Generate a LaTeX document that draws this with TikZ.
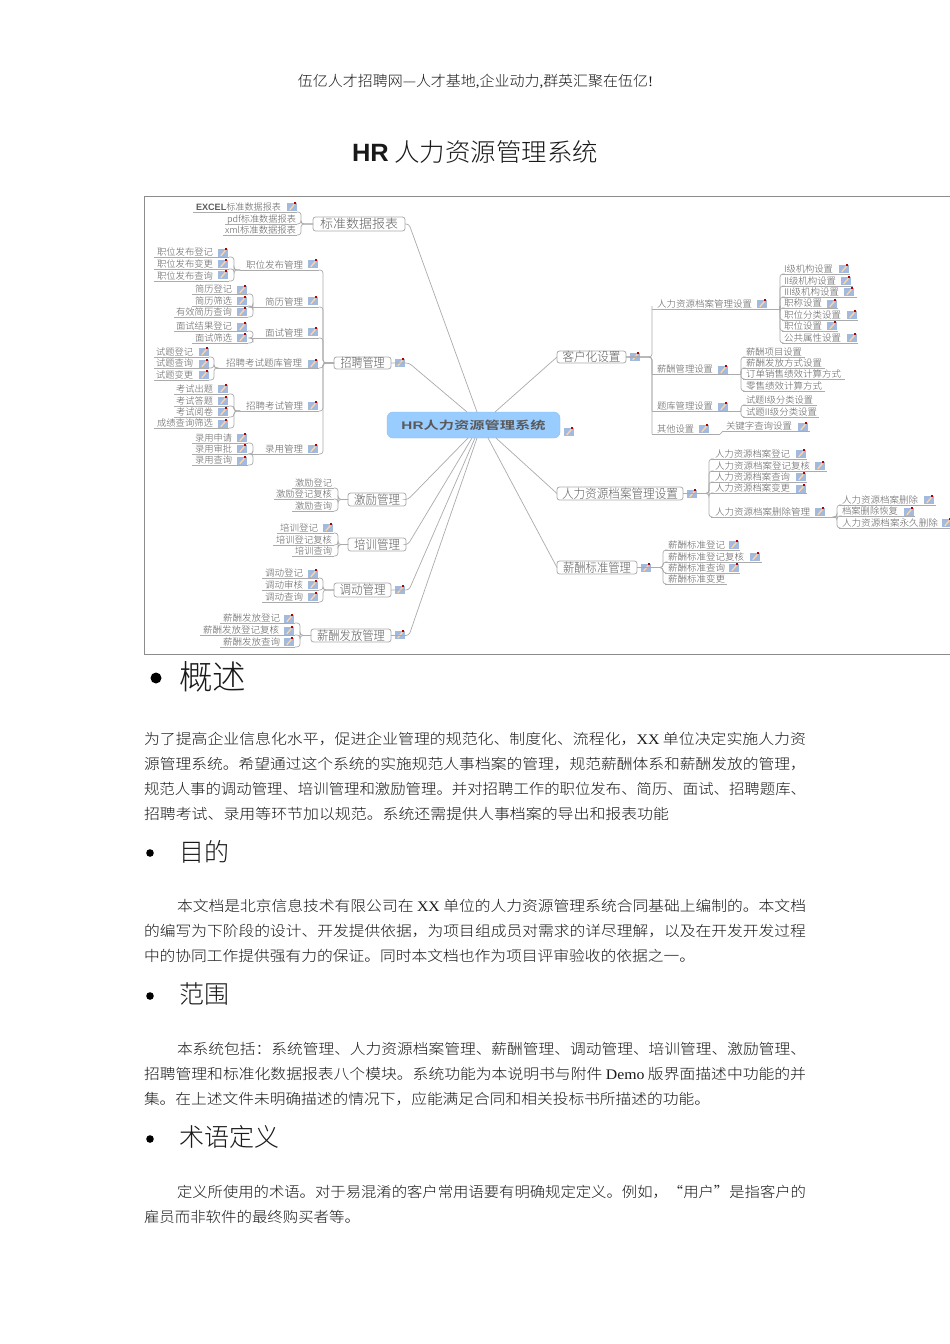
\documentclass[tikz,border=0pt]{standalone}
\usepackage{fontspec}
\usepackage{graphicx}
\setmainfont{Noto Sans CJK SC Light}
\newfontfamily\lat{Liberation Serif}
\newfontfamily\hel{Liberation Sans}
\newfontfamily\cjkbold{Noto Sans CJK SC Bold}
\definecolor{mmtext}{HTML}{5E5E5E}
\definecolor{mmline}{HTML}{ABABAB}
\definecolor{hubblue}{HTML}{99CCFF}
\definecolor{icblue}{HTML}{A3BADF}
\tikzset{
  lnk/.style={draw=mmline,line width=0.7pt,rounded corners=3pt},
  leafnode/.style={inner sep=0pt,outer sep=0pt,anchor=south,text=mmtext,text height=8.5pt,text depth=1.2pt,font=\fontsize{9.2}{10}\selectfont},
  boxnode/.style={draw=mmline,line width=0.8pt,rounded corners=2.5pt,fill=white,inner sep=0pt,outer sep=0pt,text=mmtext,font=\fontsize{12.5}{14}\selectfont},
  bodynode/.style={inner sep=0pt,outer sep=0pt,anchor=west,text=black!90,font=\fontsize{14.6}{17}\selectfont},
  headnode/.style={inner sep=0pt,outer sep=0pt,anchor=west,text=black!90},
  bulletdot/.style={fill=black}
}
\newcommand\leafn[7]{%
  \pgfmathsetlengthmacro\wa{(#3-#2)*1pt}%
  \pgfmathsetlengthmacro\wb{(#5-#2)*1pt}%
  \pgfmathsetlengthmacro\wc{(#6-#5)*1pt}%
  \node[leafnode] (#1) at ({(#2+#3)/2},#4) {\makebox[\wa][l]{\hspace{\wb}\resizebox{\wc}{\height}{#7}}};
  \draw[lnk] (#1.south west) -- (#1.south east);
}
\newcommand\boxn[6]{%
  \pgfmathsetlengthmacro\wa{(#3-#2)*1pt}%
  \pgfmathsetlengthmacro\wb{(#5-#4)*1pt}%
  \node[boxnode,minimum width=\wa,minimum height=\wb] (#1) at ({(#2+#3)/2},{(#4+#5)/2}) {#6};
}
\newcommand\icn[2]{%
  \fill[icblue] (#1-4.6,#2-4.4) rectangle (#1+4.6,#2+4.4);
  \draw[line width=1.4pt,color=white!65!orange] (#1-2.2,#2+2.8) -- (#1+2.4,#2-2.6);
  \fill[red!70!black] (#1+2.4,#2-5) rectangle (#1+4.2,#2-3.2);
}
\newcommand\bline[5]{%
  \pgfmathsetlengthmacro\wa{(#3-#2)*1pt}%
  \node[bodynode] (#1) at (#2,#4) {\resizebox{\wa}{\height}{#5}};
}
\newcommand\treen[4]{%
  \foreach \c in {#4} {\draw[lnk] (#1) -- (#2 |- #1) |- (\c.#3);}
}
\begin{document}
\begin{tikzpicture}[x=1pt,y=-1pt]
\useasboundingbox (0,0) rectangle (950,1344);
\clip (0,0) rectangle (950,1344);
\fill[white] (0,0) rectangle (950,1344);
% page head
\node[inner sep=0pt,text=black!90,font=\fontsize{14.6}{17}\selectfont] (pagehead) at (475.5,81) {\resizebox{355pt}{\height}{伍亿人才招聘网—人才基地{\lat ,}企业动力{\lat ,}群英汇聚在伍亿{\lat !}}};
\node[inner sep=0pt,text=black!90,font=\fontsize{25}{30}\selectfont] (title) at (475,152) {\resizebox{246pt}{\height}{{\hel\bfseries HR} 人力资源管理系统}};
% frame
\draw[draw=black!45,line width=0.8pt] (950,196) -- (144,196) -- (144,654) -- (950,654);
% hub
\node[draw=hubblue!80!gray,fill=hubblue,rounded corners=6pt,minimum width=173pt,minimum height=26pt,inner sep=0pt,outer sep=0pt,text=black!65,font=\fontsize{11}{13}\selectfont] (hub) at (473.5,425) {\resizebox{144pt}{\height}{{\hel\bfseries HR}{\cjkbold 人力资源管理系统}}};
\icn{569}{432}
\coordinate (hA) at (477,412);\coordinate (hB) at (467,412);\coordinate (hC) at (495,412);
\coordinate (hD) at (468,438);\coordinate (hE) at (472,438);\coordinate (hF) at (475,438);\coordinate (hG) at (477,438);
\coordinate (hH) at (488,438);\coordinate (hI) at (496,438);
% ---- standard reports
\boxn{bz}{313}{405}{217}{231}{\resizebox{78pt}{\height}{标准数据报表}}
\leafn{bz1}{193}{297}{212}{196}{281}{{\hel\bfseries EXCEL}标准数据报表}\icn{292}{207}
\leafn{bz2}{225}{297}{224}{227}{296}{pdf标准数据报表}
\leafn{bz3}{223}{297}{235}{225}{296}{xml标准数据报表}
\coordinate (jbz) at (301,224);
\treen{bz.west}{jbz}{south east}{bz1,bz2,bz3}
% ---- recruitment
\boxn{zp}{334}{391}{357}{369}{\resizebox{44pt}{\height}{招聘管理}}\icn{400}{363}
\coordinate (jzp) at (323,363);
\leafn{zp1}{240}{319}{270}{246}{303}{职位发布管理}\icn{313}{264}
\leafn{zp2}{252}{319}{307}{265}{303}{简历管理}\icn{313}{301}
\leafn{zp3}{252}{319}{338}{265}{303}{面试管理}\icn{313}{332}
\leafn{zp4}{216}{319}{368}{226}{302}{招聘考试题库管理}\icn{313}{364}
\leafn{zp5}{240}{319}{411}{246}{303}{招聘考试管理}\icn{313}{406}
\leafn{zp6}{252}{319}{454}{265}{303}{录用管理}\icn{313}{449}
\treen{zp.west}{jzp}{south east}{zp1,zp2,zp3,zp4,zp5,zp6}
\leafn{za1}{154}{229}{257}{157}{213}{职位发布登记}\icn{223}{253}
\leafn{za2}{154}{229}{269}{157}{213}{职位发布变更}\icn{223}{264}
\leafn{za3}{154}{229}{281}{157}{213}{职位发布查询}\icn{223}{275}
\coordinate (jza) at (234,270);
\treen{zp1.south west}{jza}{south east}{za1,za2,za3}
\leafn{zb1}{192}{248}{294}{195}{232}{简历登记}\icn{242}{290}
\leafn{zb2}{192}{248}{306}{195}{232}{简历筛选}\icn{242}{301}
\leafn{zb3}{174}{248}{317}{176}{232}{有效简历查询}\icn{242}{312}
\coordinate (jzb) at (253,307);
\treen{zp2.south west}{jzb}{south east}{zb1,zb2,zb3}
\leafn{zc1}{174}{248}{331}{176}{232}{面试结果登记}\icn{242}{327}
\leafn{zc2}{192}{248}{343}{195}{232}{面试筛选}\icn{242}{338}
\coordinate (jzc) at (253,338);
\treen{zp3.south west}{jzc}{south east}{zc1,zc2}
\leafn{zd1}{154}{209}{357}{156}{193}{试题登记}\icn{204}{352}
\leafn{zd2}{154}{209}{368}{156}{193}{试题查询}\icn{204}{364}
\leafn{zd3}{154}{209}{380}{156}{193}{试题变更}\icn{204}{375}
\coordinate (jzd) at (214,368);
\treen{zp4.south west}{jzd}{south east}{zd1,zd2,zd3}
\leafn{ze1}{174}{229}{394}{176}{213}{考试出题}\icn{223}{389}
\leafn{ze2}{174}{229}{406}{176}{213}{考试答题}\icn{223}{401}
\leafn{ze3}{174}{229}{417}{176}{213}{考试阅卷}\icn{223}{412}
\leafn{ze4}{154}{229}{428}{157}{213}{成绩查询筛选}\icn{223}{424}
\coordinate (jze) at (234,411);
\treen{zp5.south west}{jze}{south east}{ze1,ze2,ze3,ze4}
\leafn{zf1}{192}{248}{443}{195}{232}{录用申请}\icn{242}{438}
\leafn{zf2}{192}{248}{454}{195}{232}{录用审批}\icn{242}{449}
\leafn{zf3}{192}{248}{465}{195}{232}{录用查询}\icn{242}{461}
\coordinate (jzf) at (253,454);
\treen{zp6.south west}{jzf}{south east}{zf1,zf2,zf3}
% ---- incentive
\boxn{jl}{348}{406}{493}{506}{\resizebox{46pt}{\height}{激励管理}}
\leafn{jl1}{292}{334}{488}{295}{332}{激励登记}
\leafn{jl2}{274}{334}{499}{276}{332}{激励登记复核}
\leafn{jl3}{292}{334}{511}{295}{332}{激励查询}
\coordinate (jjl) at (338,499);
\treen{jl.west}{jjl}{south east}{jl1,jl2,jl3}
% ---- training
\boxn{px}{348}{406}{538}{551}{\resizebox{46pt}{\height}{培训管理}}
\leafn{px1}{277}{334}{533}{280}{318}{培训登记}\icn{328}{528}
\leafn{px2}{273}{334}{545}{276}{332}{培训登记复核}
\leafn{px3}{292}{334}{556}{295}{332}{培训查询}
\coordinate (jpx) at (338,545);
\treen{px.west}{jpx}{south east}{px1,px2,px3}
% ---- transfer
\boxn{dd}{334}{391}{583}{597}{\resizebox{46pt}{\height}{调动管理}}\icn{400}{590}
\leafn{dd1}{262}{319}{578}{265}{303}{调动登记}\icn{313}{574}
\leafn{dd2}{262}{319}{590}{265}{303}{调动审核}\icn{313}{585}
\leafn{dd3}{262}{319}{602}{265}{303}{调动查询}\icn{313}{597}
\coordinate (jdd) at (323,590);
\treen{dd.west}{jdd}{south east}{dd1,dd2,dd3}
% ---- pay
\boxn{xf}{311}{391}{629}{642}{\resizebox{68pt}{\height}{薪酬发放管理}}\icn{400}{635}
\leafn{xf1}{220}{295}{623}{223}{280}{薪酬发放登记}\icn{289}{619}
\leafn{xf2}{200}{295}{635}{203}{279}{薪酬发放登记复核}\icn{289}{631}
\leafn{xf3}{220}{295}{647}{223}{280}{薪酬发放查询}\icn{289}{642}
\coordinate (jxf) at (300,635);
\treen{xf.west}{jxf}{south east}{xf1,xf2,xf3}
% ---- customise
\boxn{kh}{557}{626}{351}{363}{\resizebox{58pt}{\height}{客户化设置}}\icn{635}{357}
\coordinate (jkh) at (652,357);
\leafn{kh1}{652}{780}{309}{657}{752}{人力资源档案管理设置}\icn{762}{304}
\leafn{kh2}{652}{741}{374}{657}{713}{薪酬管理设置}\icn{723}{370}
\leafn{kh3}{652}{741}{411}{657}{713}{题库管理设置}\icn{723}{407}
\leafn{kh4}{652}{720}{434}{657}{694}{其他设置}\icn{704}{429}
\treen{kh.east}{jkh}{south west}{kh1,kh2,kh3,kh4}
\leafn{ka1}{782}{850}{274}{784}{833}{I级机构设置}\icn{844}{269}
\leafn{ka2}{782}{853}{286}{784}{836}{II级机构设置}\icn{846}{281}
\leafn{ka3}{782}{857}{297}{784}{839}{III级机构设置}\icn{849}{292}
\leafn{ka4}{782}{838}{308}{784}{822}{职称设置}\icn{832}{304}
\leafn{ka5}{782}{858}{320}{784}{841}{职位分类设置}\icn{852}{315}
\leafn{ka6}{782}{838}{331}{784}{822}{职位设置}\icn{832}{326}
\leafn{ka7}{782}{858}{343}{784}{841}{公共属性设置}\icn{852}{338}
\coordinate (jka) at (780,309);
\treen{kh1.south east}{jka}{south west}{ka1,ka2,ka3,ka4,ka5,ka6,ka7}
\leafn{kb1}{743}{805}{357}{746}{802}{薪酬项目设置}
\leafn{kb2}{743}{825}{368}{746}{822}{薪酬发放方式设置}
\leafn{kb3}{743}{845}{379}{746}{841}{订单销售绩效计算方式}
\leafn{kb4}{743}{825}{391}{746}{822}{零售绩效计算方式}
\coordinate (jkb) at (741,374);
\treen{kh2.south east}{jkb}{south west}{kb1,kb2,kb3,kb4}
\leafn{kc1}{743}{817}{405}{746}{813}{试题I级分类设置}
\leafn{kc2}{743}{819}{417}{746}{817}{试题II级分类设置}
\coordinate (jkc) at (741,411);
\treen{kh3.south east}{jkc}{south west}{kc1,kc2}
\leafn{kd1}{723}{810}{431}{726}{792}{关键字查询设置}\icn{803}{427}
\draw[lnk] (kh4.south east) -- (kd1.south west);
% ---- archive
\boxn{da}{557}{683}{487}{500}{\resizebox{116pt}{\height}{人力资源档案管理设置}}\icn{692}{494}
\coordinate (jda) at (709,494);
\leafn{da1}{711}{807}{459}{715}{790}{人力资源档案登记}\icn{801}{454}
\leafn{da2}{711}{827}{471}{715}{810}{人力资源档案登记复核}\icn{820}{466}
\leafn{da3}{711}{807}{482}{715}{790}{人力资源档案查询}\icn{801}{477}
\leafn{da4}{711}{807}{493}{715}{790}{人力资源档案变更}\icn{801}{489}
\leafn{da5}{711}{836}{517}{715}{810}{人力资源档案删除管理}\icn{820}{512}
\treen{da.east}{jda}{south west}{da1,da2,da3,da4,da5}
\leafn{db1}{839}{936}{505}{842}{918}{人力资源档案删除}\icn{929}{500}
\leafn{db2}{839}{915}{516}{842}{898}{档案删除恢复}\icn{909}{512}
\leafn{db3}{839}{950}{528}{842}{938}{人力资源档案永久删除}\icn{947}{523}
\coordinate (jdb) at (837,517);
\treen{da5.south east}{jdb}{south west}{db1,db2,db3}
% ---- pay standard
\boxn{xb}{557}{637}{561}{574}{\resizebox{68pt}{\height}{薪酬标准管理}}\icn{646}{568}
\coordinate (jxb) at (663,568);
\leafn{xb1}{665}{740}{550}{668}{725}{薪酬标准登记}\icn{734}{545}
\leafn{xb2}{665}{762}{562}{668}{744}{薪酬标准登记复核}\icn{755}{557}
\leafn{xb3}{665}{740}{573}{668}{725}{薪酬标准查询}\icn{734}{568}
\leafn{xb4}{665}{727}{584}{668}{725}{薪酬标准变更}
\treen{xb.east}{jxb}{south west}{xb1,xb2,xb3,xb4}
% ---- spokes
\draw[lnk] (bz.east) -- ++(4,0) -- (hA);
\draw[lnk] (zp.east) -- ++(18,0) -- (hB);
\draw[lnk] (jl.east) -- ++(2,0) -- (hD);
\draw[lnk] (px.east) -- ++(2,0) -- (hE);
\draw[lnk] (dd.east) -- ++(18,0) -- (hF);
\draw[lnk] (xf.east) -- ++(18,0) -- (hG);
\draw[lnk] (kh.west) -- (hC);
\draw[lnk] (da.west) -- (hI);
\draw[lnk] (xb.west) -- (hH);
% ---- body
\fill[bulletdot] (156,678) circle (5.5);
\node[headnode,font=\fontsize{33.5}{36}\selectfont] (h1) at (179,677) {概述};
\bline{p1}{144}{806}{739}{为了提高企业信息化水平，促进企业管理的规范化、制度化、流程化，{\lat XX} 单位决定实施人力资}
\bline{p2}{144}{806}{764}{源管理系统。希望通过这个系统的实施规范人事档案的管理，规范薪酬体系和薪酬发放的管理，}
\bline{p3}{144}{806}{789}{规范人事的调动管理、培训管理和激励管理。并对招聘工作的职位发布、简历、面试、招聘题库、}
\bline{p4}{144}{669}{814}{招聘考试、录用等环节加以规范。系统还需提供人事档案的导出和报表功能}
\fill[bulletdot] (150,853) circle (3.8);
\node[headnode,font=\fontsize{25}{30}\selectfont] (h2) at (179,852) {目的};
\bline{p5}{177}{806}{906}{本文档是北京信息技术有限公司在 {\lat XX} 单位的人力资源管理系统合同基础上编制的。本文档}
\bline{p6}{144}{806}{931}{的编写为下阶段的设计、开发提供依据，为项目组成员对需求的详尽理解，以及在开发开发过程}
\bline{p7}{144}{695}{956}{中的协同工作提供强有力的保证。同时本文档也作为项目评审验收的依据之一。}
\fill[bulletdot] (150,996) circle (3.8);
\node[headnode,font=\fontsize{25}{30}\selectfont] (h3) at (179,994) {范围};
\bline{p8}{177}{806}{1049}{本系统包括：系统管理、人力资源档案管理、薪酬管理、调动管理、培训管理、激励管理、}
\bline{p9}{144}{806}{1074}{招聘管理和标准化数据报表八个模块。系统功能为本说明书与附件 {\lat Demo} 版界面描述中功能的并}
\bline{p10}{144}{710}{1099}{集。在上述文件未明确描述的情况下，应能满足合同和相关投标书所描述的功能。}
\fill[bulletdot] (150,1139) circle (3.8);
\node[headnode,font=\fontsize{25}{30}\selectfont] (h4) at (179,1137) {术语定义};
\bline{p11}{177}{806}{1192}{定义所使用的术语。对于易混淆的客户常用语要有明确规定定义。例如，“用户”是指客户的}
\bline{p12}{144}{360}{1217}{雇员而非软件的最终购买者等。}
\end{tikzpicture}
\end{document}
